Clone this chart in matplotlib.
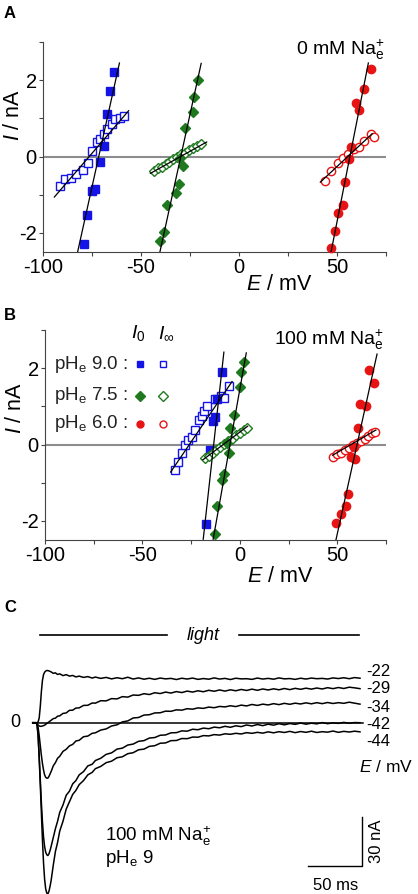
import numpy as np
import matplotlib.pyplot as plt

plt.rcParams['font.family'] = ['Liberation Sans', 'DejaVu Sans']
plt.rcParams['mathtext.fontset'] = 'custom'
plt.rcParams['mathtext.rm'] = 'Liberation Sans'
plt.rcParams['mathtext.it'] = 'Liberation Sans:italic'
plt.rcParams['mathtext.bf'] = 'Liberation Sans:bold'
plt.rcParams['axes.unicode_minus'] = False

BLUE = '#1414e6'
GREEN = '#1f7a1f'
RED = '#e81414'

# ---------------- A: 0 mM Na (E in mV, I in nA)
a_b0_E = [-79.0, -77.3, -75.1, -73.4, -70.8, -68.8, -67.1, -65.7, -63.7]
a_b0_I = [-2.30, -1.54, -0.90, -0.86, -0.14, 0.28, 1.11, 1.72, 2.22]
a_binf_E = [-91.3, -88.7, -85.8, -83.1, -79.7, -76.8, -75.1, -72.5, -70.8, -68.8, -67.1, -64.8, -63.1, -60.9, -58.9]
a_binf_I = [-0.77, -0.59, -0.55, -0.46, -0.35, -0.16, 0.15, 0.37, 0.45, 0.59, 0.72, 0.85, 0.98, 1.02, 1.07]
a_g0_E = [-40.4, -38.4, -36.7, -32.1, -30.4, -29.9, -28.5, -27.3, -23.7, -23.0, -20.8]
a_g0_I = [-2.20, -1.97, -1.27, -0.96, -0.72, -0.03, -0.25, 0.76, 1.17, 1.57, 2.00]
a_ginf_E = [-43.5, -41.5, -39.5, -37.5, -35.5, -33.5, -31.5, -29.5, -27.5, -25.5, -23.5, -21.5, -19.5]
a_ginf_I = [-0.38, -0.30, -0.27, -0.19, -0.15, -0.07, -0.02, 0.06, 0.10, 0.17, 0.22, 0.28, 0.33]
a_r0_E = [47.0, 49.2, 50.4, 52.9, 54.1, 56.3, 57.2, 61.4, 59.8, 63.7, 67.1]
a_r0_I = [-2.40, -1.95, -1.48, -1.27, -0.66, -0.07, 0.26, 1.22, 1.40, 1.78, 2.30]
a_rinf_E = [43.9, 47.0, 50.4, 52.9, 55.5, 58.9, 61.4, 64.0, 67.1, 68.8]
a_rinf_I = [-0.64, -0.38, -0.16, -0.03, 0.06, 0.19, 0.24, 0.41, 0.58, 0.50]
# fitted lines: (E start, E end), (I start, I end)
a_fit_E = [(-82.3, -61.0), (-94.2, -56.3), (-40.4, -19.3), (-45.2, -16.5), (47.0, 66.0), (41.5, 68.0)]
a_fit_I = [(-2.49, 2.45), (-1.06, 1.20), (-2.51, 2.44), (-0.44, 0.38), (-2.49, 2.45), (-0.67, 0.60)]

# ---------------- B: 100 mM Na
b_b0_E = [-17.5, -15.4, -13.6, -12.8, -11.6, -9.4]
b_b0_I = [-2.07, -0.15, 0.62, 0.72, 1.18, 1.89]
b_binf_E = [-33.1, -31.9, -29.6, -27.9, -26.8, -24.5, -22.8, -21.1, -19.4, -18.5, -16.8, -12.5, -9.9, -8.2, -5.7]
b_binf_I = [-0.66, -0.46, -0.23, -0.01, 0.12, 0.21, 0.38, 0.65, 0.74, 0.87, 1.00, 1.18, 1.27, 1.22, 1.53]
b_g0_E = [-12.5, -11.6, -9.1, -7.9, -5.7, -6.5, -5.3, -3.1, 0.0, 0.7, 2.1]
b_g0_I = [-2.35, -1.60, -0.94, -0.76, -0.23, 0.03, 0.43, 0.78, 1.52, 1.89, 2.15]
b_ginf_E = [-18.0, -16.0, -14.0, -12.0, -10.0, -8.0, -6.0, -4.0, -2.0, 0.0, 2.0, 3.5]
b_ginf_I = [-0.36, -0.31, -0.22, -0.15, -0.07, 0.02, 0.08, 0.14, 0.25, 0.31, 0.39, 0.44]
b_r0_E = [49.3, 51.8, 54.4, 55.3, 57.0, 59.0, 58.4, 60.4, 64.7, 61.8, 69.0, 66.4]
b_r0_I = [-2.06, -1.82, -1.60, -1.29, -0.32, -0.37, -0.06, 0.43, 1.00, 1.07, 1.62, 1.95]
b_rinf_E = [48.0, 50.0, 52.0, 54.0, 56.0, 58.0, 60.0, 62.0, 64.0, 66.0, 68.0, 69.5]
b_rinf_I = [-0.33, -0.25, -0.22, -0.14, -0.10, -0.02, 0.03, 0.10, 0.15, 0.22, 0.30, 0.33]
b_fit_E = [(-18.8, -8.2), (-35.5, -4.0), (-13.7, 3.3), (-19.0, 4.0), (49.3, 70.4), (47.6, 69.8)]
b_fit_I = [(-2.48, 2.42), (-0.72, 1.65), (-2.48, 2.40), (-0.40, 0.48), (-2.50, 2.37), (-0.28, 0.38)]

# ---------------- C: current traces (t in ms, I in nA)
t_ms = [-3, 0, 1, 2, 3, 4, 5, 6, 7, 8, 9, 10, 11, 12, 13, 14, 16, 18, 20, 22, 25, 28, 31, 34, 37, 40, 44, 48, 52,
        55, 60, 65, 70, 75, 80, 85, 90, 95, 100, 105, 110, 115, 120, 125, 130, 135, 140, 145, 150,
        155, 160, 165, 170, 175, 180, 185, 190, 195, 200, 205, 210, 215, 220, 225, 230, 235, 240, 245,
        250, 255, 260, 265, 270, 275, 280, 285, 290, 295, 300]
i_m22 = [0, 0, 0, 0.5, 3, 10, 19, 26, 29.5, 31, 31.7, 32, 32, 31.8, 31.5, 31.2, 30.3, 30.6, 29.6, 30.0,
         28.9, 29.5, 28.6, 29.0, 28.1, 28.6, 27.8, 28.3, 27.4,
         28.0, 27.2, 27.8, 26.9, 27.6, 27.0, 27.9, 26.8, 27.5, 26.7, 27.3, 26.6, 27.4, 26.9, 27.2, 26.5,
         27.3, 26.8, 27.4, 26.6, 27.1, 26.7, 27.5, 26.8, 27.2, 26.5, 27.3, 26.9, 27.0, 26.6, 27.4, 26.8,
         27.2, 26.7, 27.5, 26.9, 27.1, 26.6, 27.3, 26.8, 27.4, 27.0, 27.2, 26.8, 27.5, 27.1, 27.6, 27.0,
         27.7, 27.3]
i_m29 = [0, 0, -0.5, -1.5, -2, -2.2, -2.2, -2, -1.8, -1.5, -1, -0.5, 0, 0.5, 1, 1.5, 2.5, 2.8, 4.0, 4.2,
         5.7, 6.0, 7.6, 7.7, 9.0, 9.1, 10.6, 10.7, 12.1,
         12.0, 13.5, 13.4, 14.8, 14.6, 16.0, 15.7, 17.0, 16.8, 17.8, 17.3, 18.4, 17.9, 18.8, 18.2, 19.1,
         18.5, 19.4, 18.8, 19.6, 19.0, 19.9, 19.3, 20.1, 19.4, 20.2, 19.6, 20.4, 19.8, 20.6, 19.9, 20.7,
         20.1, 20.8, 20.2, 21.0, 20.3, 21.1, 20.5, 21.2, 20.6, 21.3, 20.7, 21.5, 20.9, 21.6, 21.0, 21.8,
         21.4, 20.9]
i_m34 = [0, 0, -0.5, -3, -8, -14, -20, -25, -29, -32, -33.5, -34, -34, -33, -31.5, -30, -26.5, -24.5,
         -21.8, -20.6, -17.6, -16.3, -14.2, -13.3, -11.2, -10.8, -8.6, -8.2, -6.5,
         -6.2, -4.5, -3.8, -2.0, -1.3, 0.5, 1.1, 2.9, 3.2, 4.7, 4.9, 6.0, 6.1, 7.1, 7.0, 7.9, 7.7, 8.6,
         8.3, 9.1, 8.8, 9.6, 9.2, 10.0, 9.7, 10.4, 9.9, 10.8, 10.3, 11.2, 10.6, 11.4, 10.9, 11.7, 11.1,
         11.9, 11.3, 12.0, 11.5, 12.2, 11.6, 12.3, 11.7, 12.4, 11.8, 12.3, 11.9, 12.6, 12.0, 11.4]
i_m42 = [0, 0, -1, -8, -21, -35, -49, -61, -70, -76, -79.5, -81, -81.5, -80.5, -78.5, -76, -70.5, -65,
         -60.5, -55, -50.5, -44.5, -42, -37.5, -35.5, -32, -30, -26.5, -25.5,
         -23.2, -21.8, -19.4, -18.5, -16.2, -15.6, -13.7, -13.1, -11.4, -11.0, -9.4, -9.1, -7.7, -7.5,
         -6.2, -6.1, -5.0, -5.2, -4.0, -4.3, -3.3, -3.7, -2.7, -3.1, -2.2, -2.8, -1.9, -2.4, -1.4, -2.0,
         -1.1, -1.8, -0.9, -1.5, -0.6, -1.3, -0.5, -1.0, -0.2, -0.9, -0.3, -0.7, 0.1, -0.6, -0.1, -0.4,
         0.2, -0.3, 0.1, 0.0]
i_m44 = [0, 0, -1, -8, -22, -38, -55, -72, -86, -96, -102, -104.5, -105, -103.5, -100.5, -97, -87.5,
         -79, -73.5, -66.5, -60.5, -53, -48.5, -44, -41.5, -38, -35.5, -32, -30.5,
         -28.2, -26.8, -24.5, -23.6, -21.5, -20.9, -19, -18.4, -16.6, -16.2, -14.5, -14.1, -12.6, -12.4,
         -11, -10.9, -9.7, -9.8, -8.8, -8.9, -7.9, -8.1, -7.3, -7.6, -6.8, -7.1, -6.5, -6.9, -6.1, -6.5,
         -5.9, -6.4, -5.6, -6.2, -5.5, -6.0, -5.3, -6.1, -5.4, -5.9, -5.2, -6.0, -5.5, -5.8, -5.1, -5.9,
         -5.3, -5.7, -5.2, -5.6]
trace_labels = ['-22', '-29', '-34', '-42', '-44']
label_I = [31.7, 20.7, 9.6, -0.8, -11.8]

fig = plt.figure(figsize=(4.18, 8.94), dpi=100)


def iv_axes(rect):
    ax = fig.add_axes(rect)
    ax.set_xlim(-100, 75)
    ax.set_ylim(-2.5, 3)
    ax.spines['top'].set_visible(False)
    ax.spines['right'].set_visible(False)
    for s in ['left', 'bottom']:
        ax.spines[s].set_color('#444444')
        ax.spines[s].set_linewidth(0.8)
    ax.set_xticks([-100, -50, 0, 50])
    ax.set_xticks([-75, -25, 25, 75], minor=True)
    ax.set_yticks([-2, 0, 2])
    ax.set_yticks([-1, 1, 3], minor=True)
    ax.tick_params(which='both', direction='out', length=3, width=0.8, color='#444444',
                   labelsize=14.5, pad=1.5)
    ax.axhline(0, color='#8c8c8c', lw=1.5, zorder=1)
    return ax


def draw_iv(ax, sets, fitE, fitI):
    for E, I, mk, col, filled in sets:
        ax.plot(E, I, mk, ms=5.5 if mk != 'o' else 6, mfc=col if filled else 'white',
                mec=col, mew=1.0, ls='none', zorder=3, clip_on=False)
    for e, i in zip(fitE, fitI):
        ax.plot(e, i, color='k', lw=0.9, zorder=4)


axA = iv_axes([43 / 418, 642 / 894, 343 / 418, 210 / 894])
draw_iv(axA, [(a_binf_E, a_binf_I, 's', BLUE, False), (a_b0_E, a_b0_I, 's', BLUE, True),
              (a_ginf_E, a_ginf_I, 'D', GREEN, False), (a_g0_E, a_g0_I, 'D', GREEN, True),
              (a_rinf_E, a_rinf_I, 'o', RED, False), (a_r0_E, a_r0_I, 'o', RED, True)],
        a_fit_E, a_fit_I)
axA.text(74, 2.8, '0 mM Na$_{\\rm e}^{+}$', ha='right', va='center', fontsize=14)
axA.text(0.69, -0.157, '$E$ / mV', transform=axA.transAxes, ha='center', va='center', fontsize=15.5)
axA.text(-0.087, 0.652, '$I$ / nA', transform=axA.transAxes, rotation=90,
         ha='center', va='center', fontsize=15.5)

axB = iv_axes([45 / 418, 354 / 894, 341 / 418, 210 / 894])
draw_iv(axB, [(b_binf_E, b_binf_I, 's', BLUE, False), (b_b0_E, b_b0_I, 's', BLUE, True),
              (b_ginf_E, b_ginf_I, 'D', GREEN, False), (b_g0_E, b_g0_I, 'D', GREEN, True),
              (b_rinf_E, b_rinf_I, 'o', RED, False), (b_r0_E, b_r0_I, 'o', RED, True)],
        b_fit_E, b_fit_I)
axB.text(74, 2.75, '100 mM Na$_{\\rm e}^{+}$', ha='right', va='center', fontsize=14)
axB.text(0.69, -0.175, '$E$ / mV', transform=axB.transAxes, ha='center', va='center', fontsize=15.5)
axB.text(-0.087, 0.63, '$I$ / nA', transform=axB.transAxes, rotation=90,
         ha='center', va='center', fontsize=15.5)

# legend of panel B
leg_ph = ['9.0', '7.5', '6.0']
leg_y = [2.1, 1.28, 0.54]
leg_mk = [('s', BLUE), ('D', GREEN), ('o', RED)]
axB.text(-52, 2.92, '$I_0$', ha='center', va='center', fontsize=14)
axB.text(-38, 2.92, '$I_\\infty$', ha='center', va='center', fontsize=14)
for ph, y, (mk, col) in zip(leg_ph, leg_y, leg_mk):
    axB.text(-95.5, y, 'pH$_{\\rm e}$ ' + ph + ' :', ha='left', va='center', fontsize=13.5,
             color='#222222')
    axB.plot([-51.5], [y], mk, ms=5, mfc=col, mec=col, ls='none')
    axB.plot([-39.2], [y], mk, ms=5, mfc='white', mec=col, mew=1.0, ls='none')

# ---------------- panel C
axC = fig.add_axes([0, 0, 1, 294 / 894])
axC.axis('off')
axC.set_xlim(-33.3, 353.7)
axC.set_ylim(-105.1, 75.3)
axC.plot([-2.8, 302.8], [0, 0], color='k', lw=1.1)
for tr in [i_m22, i_m29, i_m34, i_m42, i_m44]:
    axC.plot(t_ms, tr, color='k', lw=1.1, clip_on=False)
for lab, y in zip(trace_labels, label_I):
    axC.text(305.6, y, lab, ha='left', va='center', fontsize=12)
axC.text(349, -27.2, '$E$ / mV', ha='right', va='center', fontsize=12.5)
axC.text(-19.4, 0, '0', ha='center', va='center', fontsize=13)
axC.plot([4, 121], [53.8, 53.8], color='k', lw=1.2)
axC.plot([188, 299], [53.8, 53.8], color='k', lw=1.2)
axC.text(154.6, 53.8, 'light', ha='center', va='center', fontsize=13, style='italic')
axC.plot([252, 302, 302], [-87.9, -87.9, -57.9], color='k', lw=1.0)
axC.text(315.7, -72.9, '30 nA', rotation=90, ha='center', va='center', fontsize=12)
axC.text(277.8, -99.6, '50 ms', ha='center', va='center', fontsize=12)
axC.text(63.9, -69.6, '100 mM Na$_{\\rm e}^{+}$', ha='left', va='center', fontsize=13.5)
axC.text(63.9, -83.6, 'pH$_{\\rm e}$ 9', ha='left', va='center', fontsize=13.5)

for lab, y in [('A', 14), ('B', 315), ('C', 608)]:
    fig.text(4 / 418, 1 - y / 894, lab, fontsize=12, fontweight='bold', ha='left', va='center')

fig.savefig('out.png', dpi=100)
